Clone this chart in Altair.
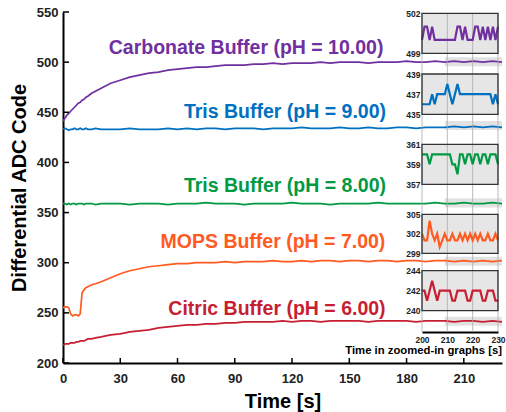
import altair as alt
import pandas as pd

# ---------------- data ----------------
SERIES = ["Carbonate Buffer (pH = 10.00)", "Tris Buffer (pH = 9.00)",
          "Tris Buffer (pH = 8.00)", "MOPS Buffer (pH = 7.00)",
          "Citric Buffer (pH = 6.00)"]
COLORS = ["#7030A0", "#0070C0", "#009A44", "#FF5A1F", "#C81E32"]

T = [0, 1, 2, 3, 4, 5, 6, 7, 8, 9, 10, 11, 12, 13, 15, 17, 20,
     25, 30, 35, 40, 45, 50, 55, 60, 65, 70, 75, 80, 85, 90, 95, 100,
     105, 110, 115, 120, 125, 130, 135, 140, 145, 150, 155, 160, 165, 170, 175, 180,
     185, 190, 195, 200, 205, 210, 215, 220, 225, 230]

CARB = [441, 444, 447, 449, 451, 453, 455, 457, 459, 460, 462, 463, 465, 466, 469, 471, 474,
        479, 482, 485, 487, 489, 490, 492, 493, 494, 495, 495, 496, 497, 497, 497, 498,
        498, 499, 498, 499, 499, 499, 500, 499, 500, 500, 500, 499, 500, 500, 500, 501,
        500, 500, 501, 500, 501, 500, 501, 500, 501, 500]
TRIS9 = [433, 434, 433, 432, 433, 433, 434, 433, 433, 434, 433, 433, 434, 433, 433, 434, 433,
         433, 433, 434, 433, 433, 433, 434, 433, 434, 433, 434, 434, 433, 434, 434, 434,
         433, 434, 434, 434, 435, 434, 434, 434, 435, 434, 434, 435, 434, 434, 435, 435,
         434, 435, 435, 435, 436, 435, 436, 435, 436, 435]
TRIS8 = [359, 359, 358, 359, 358, 359, 359, 358, 359, 359, 359, 358, 359, 359, 359, 358, 359,
         359, 359, 358, 359, 359, 359, 358, 359, 359, 359, 360, 359, 359, 359, 358, 359,
         359, 359, 359, 360, 359, 359, 359, 358, 359, 359, 359, 359, 360, 359, 359, 359,
         359, 359, 360, 359, 359, 360, 359, 359, 360, 359]
MOPS = [255, 256, 256, 255, 249, 247, 248, 248, 247, 249, 270, 273, 275, 276, 278, 279, 281,
        285, 289, 292, 294, 296, 297, 298, 299, 299, 300, 300, 300, 301, 300, 301, 301,
        301, 302, 301, 301, 302, 301, 302, 302, 301, 302, 302, 301, 302, 302, 301, 302,
        302, 301, 302, 302, 301, 302, 301, 302, 301, 302]
CITRIC = [218, 219, 219, 219, 220, 220, 220, 221, 221, 222, 222, 222, 223, 224, 224, 225, 226,
          228, 229, 231, 232, 233, 235, 236, 237, 238, 238, 239, 239, 240, 240, 241, 241,
          241, 241, 242, 241, 242, 242, 241, 242, 242, 242, 242, 241, 242, 242, 242, 242,
          241, 242, 242, 242, 241, 242, 242, 241, 242, 241]
MAIN_VALUES = [CARB, TRIS9, TRIS8, MOPS, CITRIC]

# zoomed-in window 200..230 s
INSET_T = list(range(200, 231))
P_IN = [500, 501, 501, 500, 501, 500, 500, 500, 500, 500, 500, 500, 500, 500, 501, 501,
        500, 501, 500, 500, 500, 501, 501, 500, 501, 500, 501, 500, 501, 500, 501]
B_IN = [436, 436, 436, 436, 437, 436, 437, 437, 437, 437, 438, 437, 436, 437, 438, 437,
        437, 437, 437, 437, 437, 437, 437, 437, 437, 437, 437, 437, 436, 437, 436]
G_IN = [360, 360, 360, 359, 360, 360, 360, 360, 360, 360, 360, 360, 359, 359, 358, 360,
        360, 359, 360, 360, 359, 360, 360, 359, 360, 360, 359, 360, 360, 360, 359]
O_IN = [302, 301, 301, 304, 302, 301, 302, 300, 301, 302, 301, 301, 302, 301, 301, 302,
        301, 302, 301, 302, 301, 302, 301, 302, 301, 301, 302, 301, 301, 302, 301]
R_IN = [242, 242, 241, 242, 243, 242, 241, 242, 242, 242, 242, 242, 241, 241, 242, 242,
        242, 242, 241, 241, 242, 242, 242, 242, 241, 241, 242, 242, 242, 241, 241]
INSET_VALUES = [P_IN, B_IN, G_IN, O_IN, R_IN]
INSET_DOMAINS = [[499, 502], [435, 439], [357, 361], [299, 305], [240, 244]]
INSET_YTICKS = [[499, 502], [435, 437, 439], [357, 359, 361], [299, 302, 305], [240, 242, 244]]
INSET_XTICKS = [200, 210, 220, 230]

X_TICKS = [0, 30, 60, 90, 120, 150, 180, 210]
Y_TICKS = [200, 250, 300, 350, 400, 450, 500, 550]

# label anchors (data coordinates)
LABEL_T = [95.9, 116.3, 116.3, 110.0, 112.1]
LABEL_V = [508.1, 444.3, 370.8, 314.4, 247.9]

# ---------------- layout ----------------
W, H = 439, 351
FONT = "Liberation Sans"
INSET_XRANGE = [359, 435]
INSET_YRANGES = [[41.3, 1.3], [102.3, 62], [172.3, 132.3], [241.3, 202.3], [298.7, 258.7]]

rows = []
for s, vals in zip(SERIES, MAIN_VALUES):
    for t, v in zip(T, vals):
        rows.append({"s": s, "t": t, "v": v})
main_df = pd.DataFrame(rows)

band_rows = []
for s, vals in zip(SERIES, INSET_VALUES):
    m = sum(vals) / len(vals)
    band_rows.append({"s": s, "t0": 200, "t1": 230, "v0": m - 4.5, "v1": m + 4.5})
band_df = pd.DataFrame(band_rows)

lab_df = pd.DataFrame({"s": SERIES, "t": LABEL_T, "v": LABEL_V})

xs = alt.Scale(domain=[0, 230], nice=False, zero=False)
ys = alt.Scale(domain=[200, 550], nice=False, zero=False)
cs = alt.Scale(domain=SERIES, range=COLORS)

x_axis = alt.Axis(values=X_TICKS, title="Time [s]", titleFont=FONT, titleFontSize=20,
                  titleFontWeight="bold", titleColor="black", titleX=W / 2, titleY=44,
                  titleBaseline="alphabetic", titleAlign="center", labelFont=FONT,
                  labelFontSize=13, labelFontWeight="bold", labelColor="#222",
                  labelPadding=9, ticks=False, tickSize=0, domainColor="black",
                  domainWidth=2, grid=False, labelFlush=False, orient="bottom")
y_axis = alt.Axis(values=Y_TICKS, title="Differential ADC Code", titleFont=FONT,
                  titleFontSize=20, titleFontWeight="bold", titleColor="black",
                  titleX=-38, titleY=H / 2, titleAngle=-90, titleBaseline="alphabetic",
                  titleAlign="center", labelFont=FONT, labelFontSize=13,
                  labelFontWeight="bold", labelColor="#222", labelPadding=5, ticks=False,
                  tickSize=0, domainColor="black", domainWidth=2, grid=False,
                  orient="left")

bands = alt.Chart(band_df).mark_rect(color="#e2e2e2").encode(
    x=alt.X("t0:Q", scale=xs, axis=x_axis), x2="t1",
    y=alt.Y("v0:Q", scale=ys, axis=y_axis), y2="v1")
lines = alt.Chart(main_df).mark_line(strokeWidth=1.7).encode(
    x=alt.X("t:Q", scale=xs), y=alt.Y("v:Q", scale=ys),
    color=alt.Color("s:N", scale=cs, legend=None))
labels = alt.Chart(lab_df).mark_text(font=FONT, fontSize=19.5, fontWeight="bold",
                                     align="center", baseline="alphabetic").encode(
    x=alt.X("t:Q", scale=xs), y=alt.Y("v:Q", scale=ys), text="s:N",
    color=alt.Color("s:N", scale=cs, legend=None))
xticks = alt.Chart(pd.DataFrame({"t": X_TICKS})).mark_rule(color="black", strokeWidth=1.5).encode(
    x=alt.X("t:Q", scale=xs), y=alt.value(H), y2=alt.value(H - 5))
yticks = alt.Chart(pd.DataFrame({"v": Y_TICKS})).mark_rule(color="black", strokeWidth=1.5).encode(
    y=alt.Y("v:Q", scale=ys), x=alt.value(0), x2=alt.value(6))
note = alt.Chart(pd.DataFrame({"t": [230], "v": [209], "txt": ["Time in zoomed-in graphs [s]"]})).mark_text(
    font=FONT, fontSize=11.3, fontWeight="bold", align="right", baseline="alphabetic",
    color="black").encode(x=alt.X("t:Q", scale=xs), y=alt.Y("v:Q", scale=ys), text="txt:N")

main = alt.layer(bands, lines, labels, xticks, yticks, note)


def inset_scales(i):
    xsc = alt.Scale(domain=[200, 230], range=INSET_XRANGE, nice=False, zero=False)
    ysc = alt.Scale(domain=INSET_DOMAINS[i], range=INSET_YRANGES[i], nice=False, zero=False)
    return xsc, ysc


def box_df(i):
    d = INSET_DOMAINS[i]
    return pd.DataFrame({"t0": [200], "t1": [230], "v0": [d[0]], "v1": [d[1]]})


bgs = []
fgs = []
for i in range(5):
    xsc, ysc = inset_scales(i)
    bgs.append(alt.Chart(box_df(i)).mark_rect(color="#e6e6e6").encode(
        x=alt.X("t0:Q", scale=xsc, axis=None), x2="t1",
        y=alt.Y("v0:Q", scale=ysc, axis=None), y2="v1"))
    ld = pd.DataFrame({"t": INSET_T, "v": INSET_VALUES[i]})
    iy_axis = alt.Axis(orient="left", offset=-INSET_XRANGE[0], values=INSET_YTICKS[i],
                       format="d", title=None, labelFont=FONT, labelFontSize=8.5,
                       labelFontWeight="bold", labelColor="#222", labelPadding=2,
                       ticks=False, tickSize=0, domain=False, grid=False,
                       labelFlush=False, labelOverlap=False)
    ln = alt.Chart(ld).mark_line(color=COLORS[i], strokeWidth=2.2).encode(
        x=alt.X("t:Q", scale=xsc, axis=None), y=alt.Y("v:Q", scale=ysc, axis=iy_axis))
    border = alt.Chart(box_df(i)).mark_rect(fillOpacity=0, stroke="#333", strokeWidth=1.3).encode(
        x=alt.X("t0:Q", scale=xsc, axis=None), x2="t1",
        y=alt.Y("v0:Q", scale=ysc), y2="v1")
    fgs.append(alt.layer(ln, border))

cx, _ = inset_scales(0)
col_axis = alt.Axis(orient="bottom", offset=-31, values=INSET_XTICKS, format="d", title=None,
                    labelFont=FONT, labelFontSize=8.5, labelFontWeight="bold",
                    labelColor="#222", labelPadding=3, ticks=False, tickSize=0,
                    domainColor="black", domainWidth=2, grid=False, labelFlush=False)
column = alt.Chart(pd.DataFrame({"t": INSET_XTICKS})).mark_rule(color="#aaaaaa", strokeWidth=0.8).encode(
    x=alt.X("t:Q", scale=cx, axis=col_axis), y=alt.value(1), y2=alt.value(320))

chart = alt.layer(main, *bgs, column, *fgs).resolve_scale(
    x="independent", y="independent", color="independent"
).properties(
    width=W, height=H,
    autosize=alt.AutoSizeParams(type="none"),
    padding={"left": 63, "top": 12, "right": 4, "bottom": 49},
).configure_view(stroke=None)

chart.save("out.html", embed_options={"renderer": "svg", "actions": False})
